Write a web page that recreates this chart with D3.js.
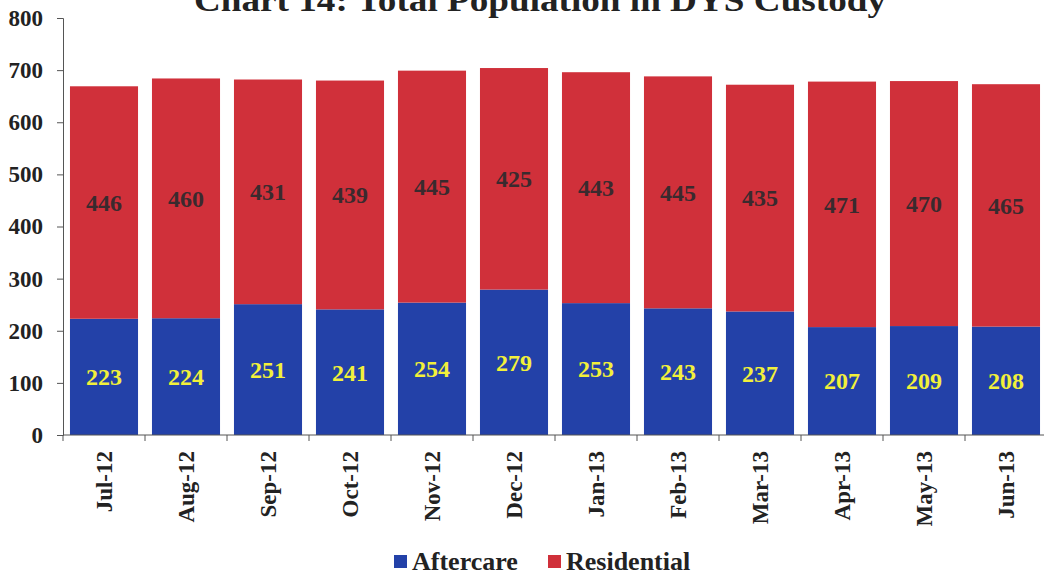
<!DOCTYPE html>
<html><head><meta charset="utf-8">
<script src="https://cdn.jsdelivr.net/npm/d3@7"></script>
<style>body{margin:0;background:#fff}svg{display:block}</style>
</head><body><svg id="c" width="1044" height="577"></svg>
<script>
const categories=["Jul-12","Aug-12","Sep-12","Oct-12","Nov-12","Dec-12","Jan-13","Feb-13","Mar-13","Apr-13","May-13","Jun-13"];
const aftercare=[223,224,251,241,254,279,253,243,237,207,209,208];
const residential=[446,460,431,439,445,425,443,445,435,471,470,465];
const yTicks=[0,100,200,300,400,500,600,700,800];
const seriesNames=["Aftercare","Residential"];
const colors=["#2341a8","#d0303a"];

const svg=d3.select("#c");
const font="Liberation Serif";
const x=d3.scaleBand().domain(categories).range([63,1047]).paddingInner(0.17).paddingOuter(0.085);
const y=d3.scaleLinear().domain([0,800]).range([435,18]);

const rows=categories.map((c,i)=>({cat:c,Aftercare:aftercare[i],Residential:residential[i]}));
const stack=d3.stack().keys(seriesNames)(rows);

svg.append("g").selectAll("g").data(stack).join("g").attr("fill",(d,i)=>colors[i])
 .selectAll("rect").data(d=>d).join("rect")
 .attr("x",d=>x(d.data.cat)).attr("width",x.bandwidth())
 .attr("y",d=>y(d[1])).attr("height",d=>y(d[0])-y(d[1]));

// labels
stack.forEach((s,si)=>{
  svg.append("g").selectAll("text").data(s).join("text")
   .attr("x",d=>x(d.data.cat)+x.bandwidth()/2)
   .attr("y",d=>(y(d[0])+y(d[1]))/2)
   .attr("dy","0.35em").attr("text-anchor","middle")
   .attr("font-family",font).attr("font-weight","bold").attr("font-size",24)
   .attr("fill",si===0?"#f2f03a":"#3a2a2e")
   .text(d=>d[1]-d[0]);
});

// y axis
const ya=svg.append("g").attr("transform","translate(63,0)")
 .call(d3.axisLeft(y).tickValues(yTicks).tickSize(6).tickPadding(14));
ya.selectAll("text").attr("font-family",font).attr("font-weight","bold").attr("font-size",23).attr("fill","#222");
ya.selectAll("line,path").attr("stroke","#555");

// x axis
const xa=svg.append("g").attr("transform","translate(0,435)")
 .call(d3.axisBottom(x).tickSize(0).tickPadding(0));
xa.select("path").attr("stroke","#555").attr("d","M63,0H1044");
xa.selectAll(".tick text").attr("font-family",font).attr("font-weight","bold").attr("font-size",23).attr("fill","#222")
 .attr("transform","rotate(-90)").attr("text-anchor","end").attr("x",-16).attr("y",0).attr("dy","0.35em");
// boundary ticks
svg.append("g").selectAll("line").data(d3.range(categories.length+1)).join("line")
 .attr("x1",i=>63+i*x.step()).attr("x2",i=>63+i*x.step()).attr("y1",435).attr("y2",441).attr("stroke","#555");

// title
svg.append("text").attr("x",540).attr("y",11).attr("text-anchor","middle")
 .attr("font-family",font).attr("font-weight","bold").attr("font-size",31).attr("fill","#222")
 .attr("textLength",692).attr("lengthAdjust","spacingAndGlyphs")
 .text("Chart 14:  Total Population in DYS Custody");

// legend
const leg=[{n:"Aftercare",c:colors[0],x:394},{n:"Residential",c:colors[1],x:548}];
leg.forEach(l=>{
  svg.append("rect").attr("x",l.x).attr("y",555).attr("width",13).attr("height",13).attr("fill",l.c);
  svg.append("text").attr("x",l.x+18).attr("y",570).attr("font-family",font).attr("font-weight","bold")
   .attr("font-size",26).attr("fill","#222").text(l.n);
});
</script></body></html>
